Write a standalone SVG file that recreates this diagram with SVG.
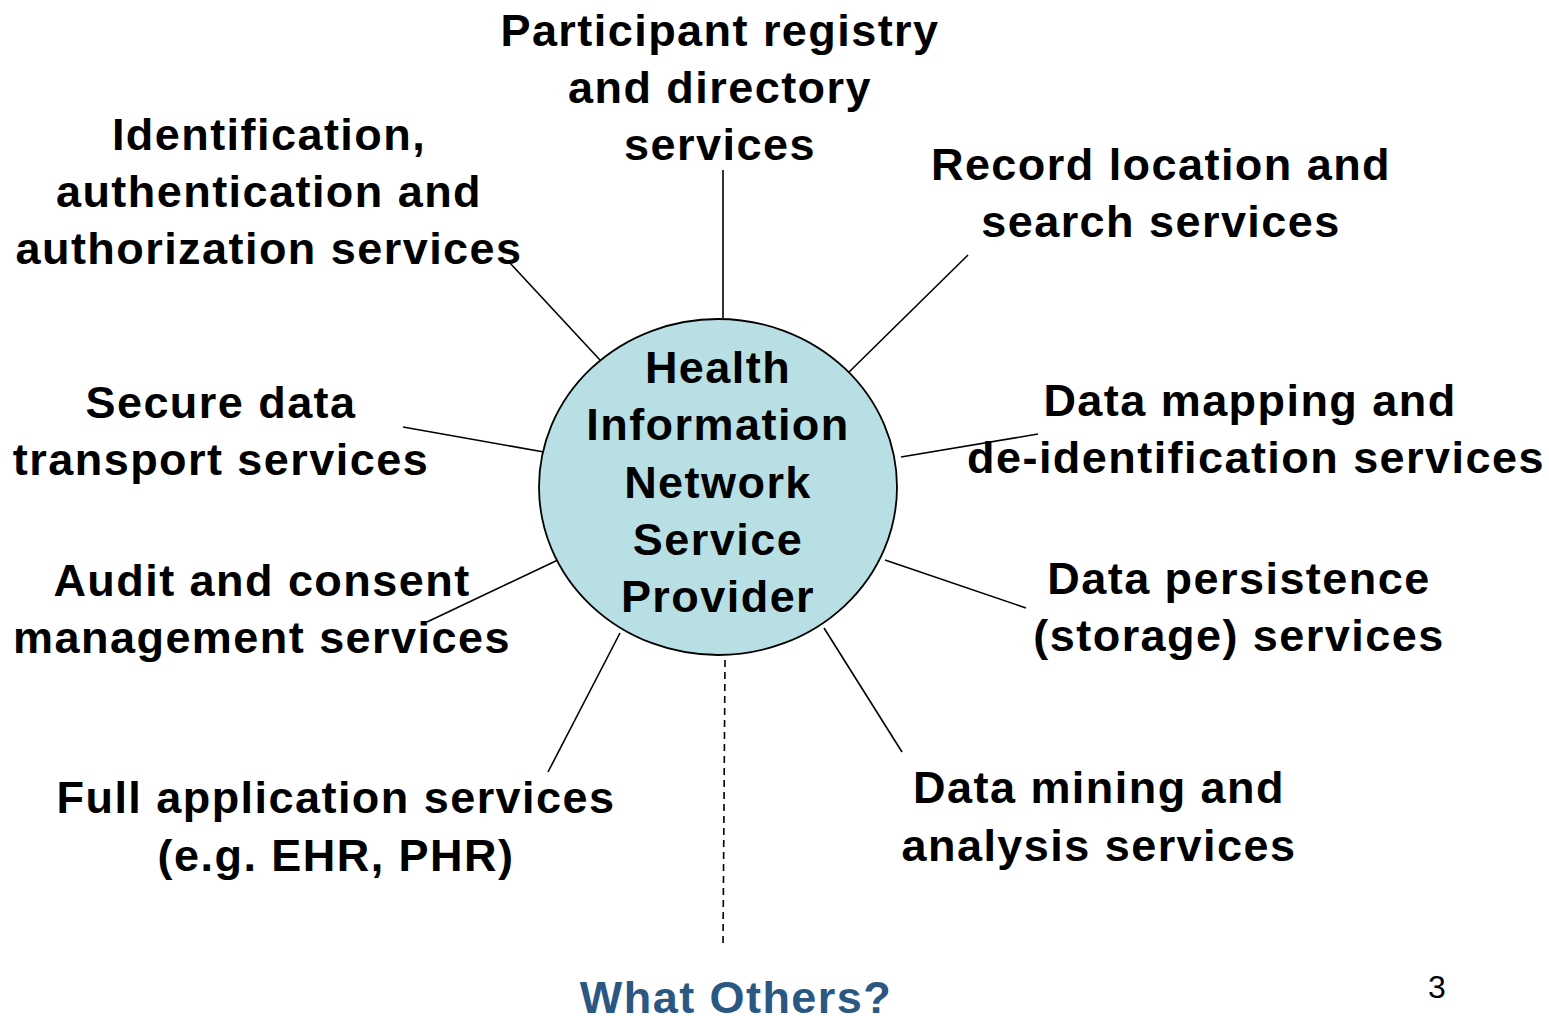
<svg xmlns="http://www.w3.org/2000/svg" width="1549" height="1016" viewBox="0 0 1549 1016">
<style>
.t{font-family:"Liberation Sans",Arial,sans-serif;font-weight:bold;font-size:45px;letter-spacing:1.45px;fill:#000;text-anchor:middle}
.c{stroke:#000;stroke-width:1.6;fill:none}
</style>
<rect width="1549" height="1016" fill="#fff"/>
<g id="connectors">
<line class="c" x1="723" y1="170" x2="723" y2="318"/>
<line class="c" x1="509" y1="262" x2="600" y2="360"/>
<line class="c" x1="968" y1="255" x2="846" y2="375"/>
<line class="c" x1="403" y1="427" x2="544" y2="452"/>
<line class="c" x1="901" y1="457" x2="1038" y2="434"/>
<line class="c" x1="427" y1="622" x2="560" y2="559"/>
<line class="c" x1="885" y1="560" x2="1026" y2="608"/>
<line class="c" x1="548" y1="772" x2="620" y2="633"/>
<line class="c" x1="824" y1="628" x2="902" y2="752"/>
<line class="c" x1="725" y1="660" x2="723" y2="948" stroke-dasharray="7,5"/>
</g>
<g id="hub">
<ellipse cx="718" cy="487" rx="179" ry="168" fill="#B8DFE3" stroke="#000" stroke-width="1.8"/>
<text class="t" x="718" y="383">Health</text>
<text class="t" x="718" y="440">Information</text>
<text class="t" x="718" y="498">Network</text>
<text class="t" x="718" y="555">Service</text>
<text class="t" x="718" y="612">Provider</text>
</g>
<g id="participant">
<text class="t" x="720" y="46">Participant registry</text>
<text class="t" x="720" y="103">and directory</text>
<text class="t" x="720" y="160">services</text>
</g>
<g id="identification">
<text class="t" x="269" y="150">Identification,</text>
<text class="t" x="269" y="207">authentication and</text>
<text class="t" x="269" y="264">authorization services</text>
</g>
<g id="record">
<text class="t" x="1161" y="180">Record location and</text>
<text class="t" x="1161" y="237">search services</text>
</g>
<g id="secure">
<text class="t" x="221" y="418">Secure data</text>
<text class="t" x="221" y="475">transport services</text>
</g>
<g id="mapping">
<text class="t" x="1250" y="416">Data mapping and</text>
<text class="t" x="1256" y="473">de-identification services</text>
</g>
<g id="audit">
<text class="t" x="262" y="596">Audit and consent</text>
<text class="t" x="262" y="653">management services</text>
</g>
<g id="persistence">
<text class="t" x="1239" y="594">Data persistence</text>
<text class="t" x="1239" y="651">(storage) services</text>
</g>
<g id="fullapp">
<text class="t" x="336" y="813">Full application services</text>
<text class="t" x="336" y="871">(e.g. EHR, PHR)</text>
</g>
<g id="mining">
<text class="t" x="1099" y="803">Data mining and</text>
<text class="t" x="1099" y="861">analysis services</text>
</g>
<g id="others">
<text class="t" x="736" y="1013" style="fill:#2B5783">What Others?</text>
</g>
<text x="1437" y="998" font-family="Liberation Sans,Arial,sans-serif" font-size="32" text-anchor="middle">3</text>
</svg>
